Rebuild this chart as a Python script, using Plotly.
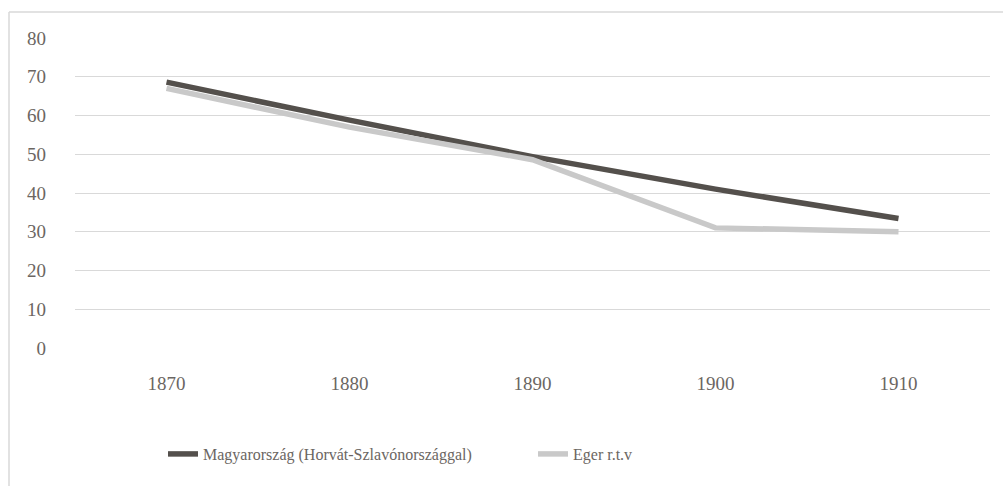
import plotly.graph_objects as go

years = ["1870", "1880", "1890", "1900", "1910"]
magyarorszag = [68.6, 58.8, 49.4, 41.0, 33.4]
eger = [67.0, 57.0, 48.6, 31.0, 30.0]
series_names = ["Magyarország (Horvát-Szlavónországgal)", "Eger r.t.v"]
y_ticks = [0, 10, 20, 30, 40, 50, 60, 70, 80]

font_family = "Liberation Serif, DejaVu Serif, serif"
tick_color = "#6b6662"

fig = go.Figure()
fig.add_trace(go.Scatter(x=years, y=magyarorszag, mode="lines", name=series_names[0],
                         line=dict(color="#54504c", width=5.5)))
fig.add_trace(go.Scatter(x=years, y=eger, mode="lines", name=series_names[1],
                         line=dict(color="#c9c9c9", width=5.5)))

fig.update_layout(
    width=1003, height=486,
    margin=dict(l=75, r=13, t=38, b=138, autoexpand=False),
    paper_bgcolor="white", plot_bgcolor="white",
    font=dict(family=font_family, size=20, color=tick_color),
    showlegend=True,
    legend=dict(orientation="h", x=0.0962, xanchor="left", y=-0.342, yanchor="middle",
                font=dict(family=font_family, size=16, color=tick_color),
                entrywidth=325, entrywidthmode="pixels", traceorder="normal",
                bgcolor="rgba(0,0,0,0)"),
    xaxis=dict(type="category", range=[-0.5, 4.5], showgrid=False, zeroline=False, showline=False,
               automargin=False, ticks="", ticklabelstandoff=22,
               tickfont=dict(size=19, color=tick_color)),
    yaxis=dict(range=[0, 80], tickvals=y_ticks, showgrid=True, gridcolor="#d9d9d9", gridwidth=1,
               automargin=False, zeroline=False, showline=False, ticks="", ticklabelstandoff=28,
               tickfont=dict(size=19, color=tick_color)),
    shapes=[
        dict(type="line", xref="paper", yref="paper", x0=(9 - 75) / 915, x1=1.05,
             y0=(348 - 12) / 310, y1=(348 - 12) / 310, line=dict(color="#d9d9d9", width=1.5)),
        dict(type="line", xref="paper", yref="paper", x0=(9 - 75) / 915, x1=(9 - 75) / 915,
             y0=(348 - 12) / 310, y1=-0.6, line=dict(color="#d9d9d9", width=1.5)),
    ],
)

fig.write_html("out.html", config={"displayModeBar": False},
               post_script="document.body.style.margin='0';")
